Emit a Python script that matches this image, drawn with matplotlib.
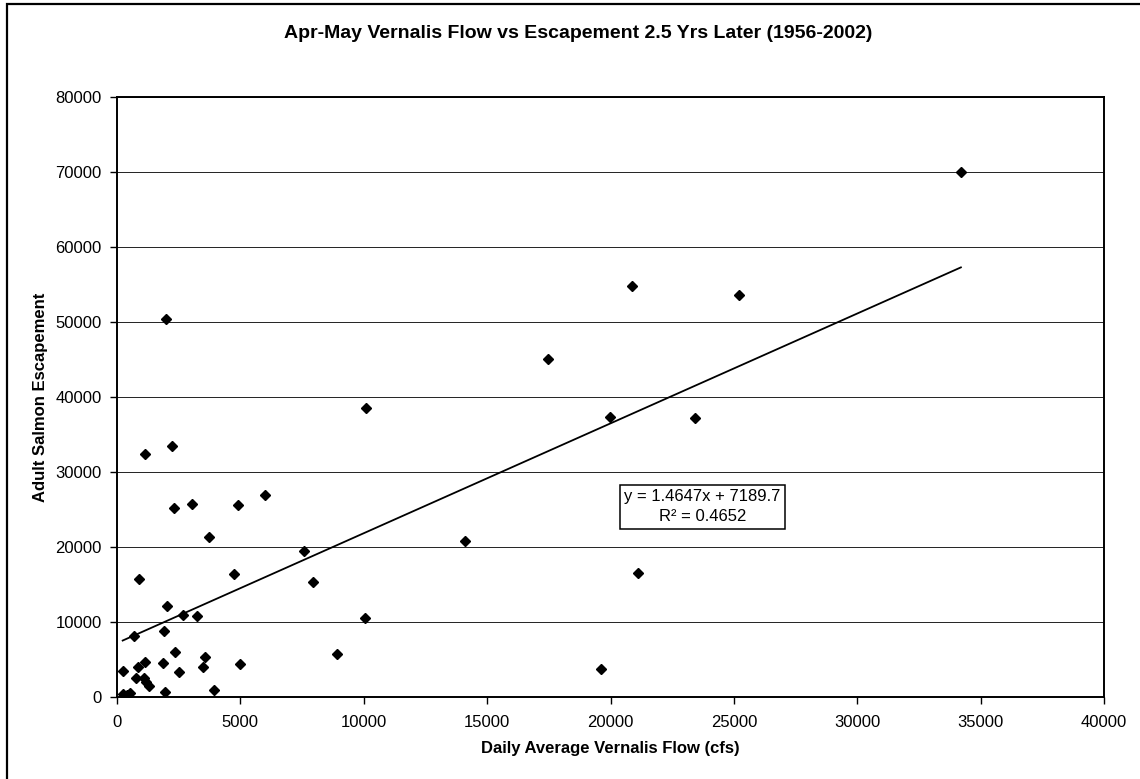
#!/usr/bin/env python3
"""
Apr-May Vernalis flow vs adult salmon escapement 2.5 years later (1956-2002)
"""

import numpy as np
import matplotlib
matplotlib.use("Agg")
import matplotlib.pyplot as plt
from matplotlib.patches import Rectangle

# Daily average Vernalis flow (cfs)
flow = [230, 400, 530, 260, 700, 770, 860, 900, 1110, 1130, 1170, 1310,
        1130, 1880, 1920, 1960, 1970, 2030, 2240, 2310, 2350, 2510, 2660,
        3020, 3240, 3500, 3560, 3720, 3950, 4760, 4910, 4980, 5980, 7570,
        7950, 8930, 10050, 10100, 14100, 17460, 19600, 19980, 20860, 21100,
        23430, 25200, 34200]

# Adult salmon escapement
escapement = [360, 300, 600, 3500, 8200, 2500, 3960, 15700, 2600, 4700,
              2000, 1500, 32400, 4500, 8800, 700, 50400, 12200, 33500,
              25200, 6000, 3300, 10900, 25700, 10800, 4000, 5300, 21400,
              900, 16400, 25600, 4400, 26900, 19500, 15400, 5700, 10600,
              38600, 20800, 45100, 3800, 37400, 54800, 16600, 37200, 53600,
              70000]

# Linear trendline as reported on the chart
slope = 1.4647
intercept = 7189.7
r_squared = 0.4652

x_ticks = np.arange(0, 40001, 5000)
y_ticks = np.arange(0, 80001, 10000)

plt.rcParams['font.family'] = ['Liberation Sans', 'DejaVu Sans']

W, H = 1140, 779
fig = plt.figure(figsize=(W / 100, H / 100), dpi=100)
fig.patch.set_facecolor('white')

# plot area in pixel units
left, right, top, bottom = 117, 1104, 97, 697
ax = fig.add_axes([left / W, 1 - bottom / H, (right - left) / W, (bottom - top) / H])

# outer chart frame (right/bottom edges fall outside the picture)
frame = Rectangle((7 / W, -0.1), 1.2, 1.1 - 4 / H, transform=fig.transFigure,
                  fill=False, edgecolor='black', linewidth=1.6, clip_on=False)
fig.patches.append(frame)

ax.set_xlim(0, 40000)
ax.set_ylim(0, 80000)
ax.set_xticks(x_ticks)
ax.set_yticks(y_ticks)
ax.tick_params(direction='out', length=5, width=1, labelsize=12, pad=6)
ax.tick_params(axis='x', pad=8)

ax.grid(True, axis='y', color='#222222', linewidth=0.7)
ax.set_axisbelow(True)
for side in ['left', 'bottom', 'top', 'right']:
    ax.spines[side].set_linewidth(1.4)
    ax.spines[side].set_color('black')

# trendline over the data range
x_line = np.array([min(flow), max(flow)])
ax.plot(x_line, slope * x_line + intercept, color='black', linewidth=1.3, zorder=3)

ax.plot(flow, escapement, linestyle='none', marker='D', markersize=4.6,
        color='black', zorder=4)

ax.set_xlabel('Daily Average Vernalis Flow (cfs)', fontsize=12, fontweight='bold',
              labelpad=8)
ax.set_ylabel('Adult Salmon Escapement', fontsize=12, fontweight='bold', labelpad=5)

fig.text(578 / W, 1 - 33 / H,
         'Apr-May Vernalis Flow vs Escapement 2.5 Yrs Later (1956-2002)',
         ha='center', va='center', fontsize=14, fontweight='bold')

fig.text(702.5 / W, 1 - 506.7 / H,
         f'y = {slope}x + {intercept}\nR² = {r_squared}',
         ha='center', va='center', multialignment='center', fontsize=12,
         linespacing=1.45,
         bbox=dict(boxstyle='square,pad=0.25', facecolor='white',
                   edgecolor='black', linewidth=1.1))

plt.savefig('out.png', dpi=100)
